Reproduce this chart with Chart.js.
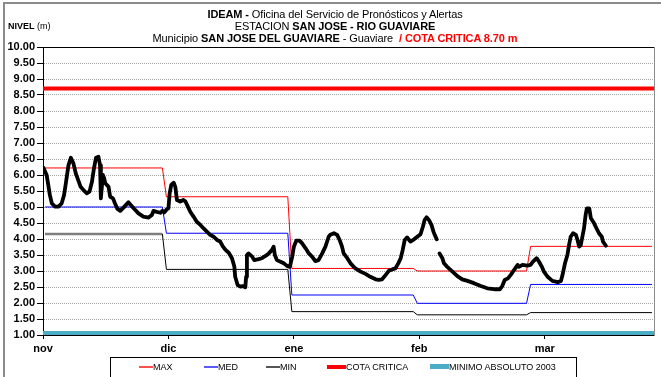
<!DOCTYPE html>
<html>
<head>
<meta charset="utf-8">
<script src="https://cdn.jsdelivr.net/npm/chart.js@4.4.0/dist/chart.umd.min.js"></script>
<style>
  html, body { margin: 0; padding: 0; background: #fff; }
  #wrap { position: relative; width: 661px; height: 377px; overflow: hidden;
          font-family: "Liberation Sans", Arial, sans-serif; color: #000; }
  #frame { position: absolute; left: 3px; top: 2px; width: 700px; height: 400px;
           border-left: 2px solid #8c8c8c; border-top: 2px solid #8c8c8c; }
  #chart { position: absolute; left: 0; top: 0; }
  .title { position: absolute; left: 0; width: 670px; text-align: center;
           font-size: 11px; line-height: 12px; white-space: nowrap; letter-spacing: -0.1px; }
  .red { color: #ff0000; font-weight: bold; }
  #nivel { position: absolute; left: 8px; top: 21px; font-size: 9px; white-space: nowrap; }
  #legend { position: absolute; left: 110px; top: 357px; width: 465px; height: 22px;
            border: 1px solid #000; font-size: 9px; white-space: nowrap; }
  .item { position: absolute; top: 4px; line-height: 11px; }
  .swatch { display: inline-block; width: 14px; vertical-align: middle; margin-top: -2px; }
</style>
</head>
<body>
<div id="wrap">
  <div id="frame"></div>
  <canvas id="chart" width="661" height="377"></canvas>
  <div class="title" style="top:8px"><b>IDEAM -</b> Oficina del Servicio de Pronósticos y Alertas</div>
  <div class="title" style="top:20px">ESTACION <b>SAN JOSE - RIO GUAVIARE</b></div>
  <div class="title" style="top:32px">Municipio <b>SAN JOSE DEL GUAVIARE</b> - Guaviare &nbsp;<span class="red">/ COTA CRITICA 8.70 m</span></div>
  <div id="nivel"><b>NIVEL</b> (m)</div>
  <div id="legend">
    <span class="item" style="left:28px"><span class="swatch" style="border-top:2px solid #ff5050"></span>MAX</span>
    <span class="item" style="left:93px"><span class="swatch" style="border-top:2px solid #5a5aff"></span>MED</span>
    <span class="item" style="left:155px"><span class="swatch" style="border-top:2px solid #555"></span>MIN</span>
    <span class="item" style="left:216px"><span class="swatch" style="width:19px;border-top:4px solid #ff0000"></span>COTA CRITICA</span>
    <span class="item" style="left:319px"><span class="swatch" style="width:19px;border-top:5px solid #4bacc6"></span>MINIMO ABSOLUTO 2003</span>
  </div>
</div>
<script>
// Meses del periodo (nov - mar) y posicion de sus etiquetas en dias
var monthLabels = ['nov', 'dic', 'ene', 'feb', 'mar'];
var monthStart = [0, 30, 61, 92, 120];
var monthDays = [30, 31, 31, 28, 31];
var labelTicks = [0, 31, 62, 93, 124];

// Marcas del eje de niveles (m)
var levelTicks = [1.0, 1.5, 2.0, 2.5, 3.0, 3.5, 4.0, 4.5, 5.0, 5.5,
  6.0, 6.5, 7.0, 7.5, 8.0, 8.5, 9.0, 9.5, 10.0];

// Niveles historicos mensuales (m)
var maxLevel = [6.22, 5.32, 3.08, 3.00, 3.77];
var medLevel = [5.00, 4.18, 2.25, 1.99, 2.58];
var minLevel = [4.16, 3.05, 1.73, 1.63, 1.70];

var cotaCritica = 8.70;
var minimoAbsoluto = 1.05;

// Nivel observado: dia del periodo y nivel (m); null = sin dato
var obsDay = [0.1, 0.9, 1.3, 1.7, 2.2, 3.0, 3.8, 4.6, 5.2, 5.7,
  6.3, 6.9, 7.5, 8.1, 8.7, 9.3, 10.0, 10.8, 11.5, 12.1,
  12.6, 13.1, 13.7, 14.1, 14.3, 14.8, 15.1, 15.4, 16.2, 16.6,
  17.3, 17.8, 18.4, 19.1, 19.9, 21.1, 22.4, 23.6, 24.8, 26.1,
  26.9, 27.3, 28.1, 29.0, 29.5, 30.0, 30.6, 31.0, 31.3, 31.7,
  32.3, 32.7, 33.1, 33.9, 34.7, 35.2, 35.8, 36.4, 37.2, 38.0,
  38.9, 39.7, 40.5, 41.3, 42.2, 43.0, 43.8, 44.4, 45.1, 45.9,
  46.7, 47.3, 47.5, 48.1, 48.8, 49.4, 50.0, 50.2, 50.4, 50.8,
  51.7, 52.2, 53.3, 54.1, 55.0, 55.8, 56.6, 57.0, 57.3, 57.8,
  58.7, 59.5, 60.3, 61.0, 61.6, 62.0, 62.6, 63.4, 64.0, 64.9,
  65.7, 66.5, 67.3, 68.1, 69.0, 69.8, 70.6, 71.0, 71.9, 72.7,
  73.3, 73.9, 74.3, 75.2, 76.0, 77.2, 78.5, 79.7, 80.9, 82.2,
  83.0, 83.8, 84.7, 85.5, 86.3, 87.1, 87.8, 88.4, 88.9, 89.4,
  90.0, 90.8, 91.7, 92.5, 93.3, 93.9, 94.3, 94.8, 95.4, 96.0,
  96.5, 96.8, 97.3, 97.6, 98.0, 98.7, 99.1, 99.9, 101.2, 102.4,
  103.6, 104.9, 106.5, 108.2, 109.8, 111.5, 112.9, 113.5, 114.1, 114.9,
  115.6, 116.4, 117.3, 117.6, 118.5, 119.7, 120.5, 121.1, 122.0, 122.6,
  123.3, 123.8, 124.7, 125.9, 127.2, 128.0, 128.4, 129.0, 129.6, 130.0,
  130.4, 131.0, 131.7, 132.1, 132.5, 132.9, 133.3, 133.7, 134.1, 134.4,
  135.0, 135.4, 136.2, 136.8, 137.4, 138.1, 138.4, 139.1];
var obsLevel = [6.23, 6.00, 5.69, 5.37, 5.11, 5.01, 5.01, 5.11, 5.37, 5.79,
  6.31, 6.54, 6.37, 6.05, 5.84, 5.63, 5.53, 5.43, 5.48, 5.79,
  6.21, 6.54, 6.57, 6.31, 5.27, 6.00, 5.90, 5.74, 5.63, 5.32,
  5.27, 5.11, 4.94, 4.88, 4.98, 5.15, 4.96, 4.80, 4.70, 4.67,
  4.75, 4.88, 4.85, 4.82, 4.88, 4.83, 4.93, 4.96, 5.43, 5.69,
  5.76, 5.63, 5.22, 5.17, 5.22, 5.17, 5.01, 4.85, 4.70, 4.54,
  4.44, 4.33, 4.23, 4.13, 4.07, 3.97, 3.92, 3.78, 3.66, 3.57,
  3.40, 3.13, 2.82, 2.56, 2.51, 2.53, 2.49, 2.82, 3.50, 3.55,
  3.45, 3.34, 3.37, 3.40, 3.47, 3.55, 3.66, 3.76, 3.50, 3.34,
  3.29, 3.24, 3.16, 3.13, 3.45, 3.76, 3.95, 3.95, 3.87, 3.71,
  3.55, 3.45, 3.31, 3.34, 3.55, 3.76, 4.07, 4.13, 4.18, 4.13,
  3.97, 3.76, 3.55, 3.40, 3.24, 3.08, 2.98, 2.91, 2.82, 2.74,
  2.72, 2.74, 2.88, 3.01, 3.05, 3.08, 3.24, 3.40, 3.66, 3.97,
  4.05, 3.92, 3.99, 4.07, 4.15, 4.39, 4.59, 4.68, 4.59, 4.44,
  4.23, 4.13, 3.99, null, 3.55, 3.40, 3.24, 3.13, 2.98, 2.84,
  2.74, 2.69, 2.62, 2.53, 2.46, 2.43, 2.43, 2.53, 2.72, 2.77,
  2.88, 3.03, 3.19, 3.13, 3.19, 3.17, 3.19, 3.29, 3.40, 3.29,
  3.13, 2.98, 2.82, 2.69, 2.65, 2.69, 2.88, 3.24, 3.50, 3.81,
  4.07, 4.18, 4.13, 3.97, 3.76, 3.81, 4.07, 4.33, 4.75, 4.96,
  4.96, 4.65, 4.49, 4.33, 4.18, 4.07, 3.92, 3.79];

var totalDays = 151;

// Un valor por mes -> escalon del primer al ultimo dia del mes
function stepPoints(values) {
  var pts = [];
  values.forEach(function(v, i) {
    pts.push({ x: monthStart[i] + 0.5, y: v });
    pts.push({ x: monthStart[i] + monthDays[i] - 0.5, y: v });
  });
  return pts;
}

function flatLine(v) {
  return [{ x: 0, y: v }, { x: totalDays, y: v }];
}

var obsPoints = obsDay.map(function(d, i) { return { x: d, y: obsLevel[i] }; });

var lineBase = { pointRadius: 0, fill: false, tension: 0 };

new Chart(document.getElementById('chart'), {
  type: 'line',
  data: {
    datasets: [
      Object.assign({ label: 'NIVEL', data: obsPoints, borderColor: '#000', borderWidth: 3.8,
        borderJoinStyle: 'round', borderCapStyle: 'round', spanGaps: false }, lineBase),
      Object.assign({ label: 'MAX', data: stepPoints(maxLevel), borderColor: '#ff0000', borderWidth: 1 }, lineBase),
      Object.assign({ label: 'MED', data: stepPoints(medLevel), borderColor: '#0000ff', borderWidth: 1 }, lineBase),
      Object.assign({ label: 'MIN', data: stepPoints(minLevel), borderColor: '#000', borderWidth: 1,
        segment: {
          borderColor: function(ctx) { return ctx.p0.parsed.x < monthStart[1] - 1 ? '#7f7f7f' : '#000'; },
          borderWidth: function(ctx) { return ctx.p0.parsed.x < monthStart[1] - 1 ? 2.5 : 1; }
        } }, lineBase),
      Object.assign({ label: 'COTA CRITICA', data: flatLine(cotaCritica), borderColor: '#ff0000', borderWidth: 4 }, lineBase),
      Object.assign({ label: 'MINIMO ABSOLUTO 2003', data: flatLine(minimoAbsoluto), borderColor: '#4bacc6', borderWidth: 5 }, lineBase)
    ]
  },
  options: {
    responsive: false,
    animation: false,
    layout: { padding: { left: 0, top: 47, right: 7, bottom: 0 } },
    plugins: { legend: { display: false }, tooltip: { enabled: false } },
    scales: {
      x: {
        type: 'linear', min: 0, max: totalDays,
        afterBuildTicks: function(scale) {
          scale.ticks = labelTicks.map(function(v) { return { value: v }; });
        },
        afterFit: function(scale) { scale.height = 42; },
        ticks: {
          autoSkip: false, maxRotation: 0, padding: 3, color: '#000',
          font: { family: 'Liberation Sans', size: 11, weight: 'bold' },
          callback: function(v) { return monthLabels[labelTicks.indexOf(v)]; }
        },
        grid: { drawOnChartArea: false, tickLength: 4, tickColor: '#000' },
        border: { color: '#000', width: 1 }
      },
      xTop: {
        type: 'linear', position: 'top', min: 0, max: totalDays,
        afterFit: function(scale) { scale.height = 0; },
        ticks: { display: false },
        grid: { drawOnChartArea: false, drawTicks: false },
        border: { color: '#000', width: 1 }
      },
      y: {
        min: 1, max: 10,
        afterBuildTicks: function(scale) {
          scale.ticks = levelTicks.map(function(v) { return { value: v }; });
        },
        afterFit: function(scale) { scale.width = 43; },
        ticks: {
          autoSkip: false, padding: 2, color: '#000',
          font: { family: 'Liberation Sans', size: 11, weight: 'bold' },
          callback: function(v) { return v.toFixed(2); }
        },
        grid: {
          color: function(ctx) {
            var v = ctx.tick && ctx.tick.value;
            return (v === 1 || v === 10) ? 'rgba(0,0,0,0)' : '#a6a6a6';
          },
          tickLength: 6, tickColor: '#000', tickBorderDash: [], lineWidth: 1
        },
        border: { color: '#000', width: 1, dash: [1, 1] }
      },
      yRight: {
        position: 'right', min: 1, max: 10,
        afterFit: function(scale) { scale.width = 0; },
        ticks: { display: false },
        grid: { drawOnChartArea: false, drawTicks: false },
        border: { color: '#8c8c8c', width: 1 }
      }
    }
  }
});
</script>
</body>
</html>
